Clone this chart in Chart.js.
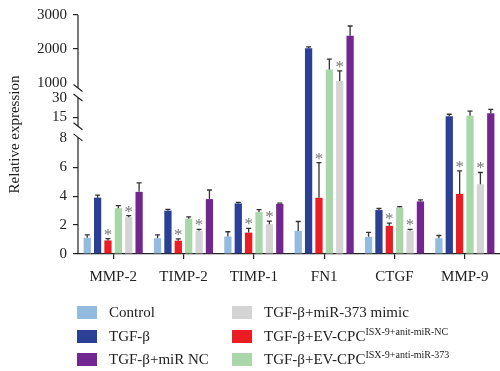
<!DOCTYPE html>
<html>
<head>
<meta charset="utf-8">
<script src="https://cdn.jsdelivr.net/npm/chart.js@4.4.0/dist/chart.umd.min.js"></script>
<style>
html, body { margin: 0; padding: 0; background: #fff; }
#wrap { position: relative; width: 500px; height: 371px; }
#legend { position: absolute; left: 0; top: 0; font-family: 'Liberation Serif', serif; font-size: 15px; color: #222; }
.item { position: absolute; white-space: nowrap; line-height: 16px; }
.sw { position: absolute; width: 20px; height: 13px; }
sup { font-size: 10px; vertical-align: 6px; line-height: 0; }
</style>
</head>
<body>
<div id="wrap"><canvas id="chart" width="500" height="371"></canvas><div id="legend"></div></div>
<script>
// data
var categories = ['MMP-2', 'TIMP-2', 'TIMP-1', 'FN1', 'CTGF', 'MMP-9'];

var control    = [1.12, 1.09, 1.21, 1.6, 1.19, 1.09];
var controlErr = [0.2, 0.23, 0.33, 0.65, 0.31, 0.19];
var tgf        = [3.9, 3.0, 3.5, 2020, 3.04, 15.7];
var tgfErr     = [0.17, 0.09, 0.07, 45, 0.11, 1.6];
var antiNC     = [0.94, 0.92, 1.48, 3.89, 1.95, 4.16];
var antiNCErr  = [0.12, 0.13, 0.29, 2.44, 0.18, 1.59];
var anti373    = [3.17, 2.44, 2.91, 1400, 3.22, 16.2];
var anti373Err = [0.18, 0.13, 0.16, 300, 0.06, 3.5];
var mimic      = [2.55, 1.61, 2.06, 1057, 1.63, 4.83];
var mimicErr   = [0.1, 0.09, 0.22, 300, 0.07, 0.81];
var miRNC      = [4.3, 3.8, 3.47, 2392, 3.64, 18.0];
var miRNCErr   = [0.62, 0.63, 0.05, 285, 0.1, 3.0];

var yTicks = [0, 2, 4, 6, 8, 15, 30, 1000, 2000, 3000];
// value -> share of the axis height (broken axis)
var breakVals  = [0, 8, 15, 30, 1000, 3000];
var breakFracs = [0, 0.4837, 0.572, 0.6545, 0.7154, 1];

var starred = [true, true, true, true, true, true];
var none    = [false, false, false, false, false, false];

var datasets = [
  {label: 'Control', data: control, errors: controlErr, stars: none, backgroundColor: '#93badf'},
  {label: 'TGF-β', data: tgf, errors: tgfErr, stars: none, backgroundColor: '#2b3f95'},
  {label: 'TGF-β+EV-CPC ISX-9+anit-miR-NC', data: antiNC, errors: antiNCErr, stars: starred, backgroundColor: '#ec1c24'},
  {label: 'TGF-β+EV-CPC ISX-9+anti-miR-373', data: anti373, errors: anti373Err, stars: none, backgroundColor: '#a9d7a9'},
  {label: 'TGF-β+miR-373 mimic', data: mimic, errors: mimicErr, stars: starred, backgroundColor: '#d4d4d4'},
  {label: 'TGF-β+miR NC', data: miRNC, errors: miRNCErr, stars: none, backgroundColor: '#722690'}
];

// legend: [dataset index, main text, superscript, x, y]
var legendItems = [
  [0, 'Control', '', 77, 312],
  [1, 'TGF-β', '', 77, 336],
  [5, 'TGF-β+miR NC', '', 77, 359],
  [4, 'TGF-β+miR-373 mimic', '', 232, 312],
  [2, 'TGF-β+EV-CPC', 'ISX-9+anit-miR-NC', 232, 336],
  [3, 'TGF-β+EV-CPC', 'ISX-9+anti-miR-373', 232, 359]
];

class BrokenScale extends Chart.LinearScale {
  buildTicks() {
    return yTicks.map(function(v) { return {value: v}; });
  }
  valueToFrac(v) {
    for (var i = 1; i < breakVals.length; i++) {
      if (v <= breakVals[i] || i == breakVals.length - 1) {
        var t = (v - breakVals[i-1]) / (breakVals[i] - breakVals[i-1]);
        return breakFracs[i-1] + t * (breakFracs[i] - breakFracs[i-1]);
      }
    }
  }
  getPixelForValue(v) {
    return this.bottom - this.valueToFrac(v) * (this.bottom - this.top);
  }
  getValueForPixel(p) {
    var f = (this.bottom - p) / (this.bottom - this.top);
    for (var i = 1; i < breakFracs.length; i++) {
      if (f <= breakFracs[i] || i == breakFracs.length - 1) {
        var t = (f - breakFracs[i-1]) / (breakFracs[i] - breakFracs[i-1]);
        return breakVals[i-1] + t * (breakVals[i] - breakVals[i-1]);
      }
    }
  }
}
BrokenScale.id = 'broken';
BrokenScale.defaults = {};
Chart.register(BrokenScale);

var errorBars = {
  id: 'errorBars',
  afterDatasetsDraw: function(chart) {
    var ctx = chart.ctx, y = chart.scales.y;
    chart.data.datasets.forEach(function(ds, i) {
      chart.getDatasetMeta(i).data.forEach(function(bar, j) {
        var top = y.getPixelForValue(ds.data[j] + ds.errors[j]);
        ctx.save();
        ctx.strokeStyle = '#333';
        ctx.lineWidth = 1.3;
        ctx.beginPath();
        ctx.moveTo(bar.x, bar.y);
        ctx.lineTo(bar.x, top);
        ctx.moveTo(bar.x - 2.5, top);
        ctx.lineTo(bar.x + 2.5, top);
        ctx.stroke();
        if (ds.stars[j]) {
          ctx.fillStyle = '#777';
          ctx.font = '17px "Liberation Serif"';
          ctx.textAlign = 'center';
          ctx.fillText('*', bar.x, top + 1);
        }
        ctx.restore();
      });
    });
  }
};

var axisBreaks = {
  id: 'axisBreaks',
  afterDraw: function(chart) {
    var ctx = chart.ctx, y = chart.scales.y, x0 = chart.chartArea.left;
    var p = function(v) { return y.getPixelForValue(v); };
    var segs = [[p(3000), p(1000) + 5], [p(30), p(15) + 9], [p(8) - 1, p(0)]];
    var slashes = [p(1000) + 5, p(30), p(15) + 9, p(8) - 1];
    ctx.save();
    ctx.strokeStyle = '#222';
    ctx.lineWidth = 1.2;
    ctx.beginPath();
    segs.forEach(function(s) { ctx.moveTo(x0, s[0]); ctx.lineTo(x0, s[1]); });
    slashes.forEach(function(c) { ctx.moveTo(x0 - 4.5, c - 3.5); ctx.lineTo(x0 + 4.5, c + 3.5); });
    ctx.stroke();
    ctx.restore();
  }
};

var hidden = [1000, 30, 8];
var canvas = document.getElementById('chart');
var config = {
  type: 'bar',
  data: {labels: categories, datasets: datasets},
  options: {
    responsive: false,
    animation: false,
    layout: {padding: {top: 8, right: 0, left: 0, bottom: 0}},
    datasets: {bar: {barPercentage: 0.7, categoryPercentage: 0.885, borderWidth: 0}},
    plugins: {legend: {display: false}, tooltip: {enabled: false}},
    scales: {
      x: {
        grid: {offset: false, drawOnChartArea: false, tickLength: 5, color: '#222', lineWidth: 1.2},
        border: {color: '#222', width: 1.2},
        ticks: {color: '#222', padding: 9, font: {family: 'Liberation Serif', size: 15}},
        afterFit: function(s) { s.height = 117; }
      },
      y: {
        type: 'broken',
        min: 0, max: 3000,
        grid: {drawOnChartArea: false, tickLength: 5, lineWidth: 1.2,
               color: function(c) { return hidden.indexOf(c.tick.value) >= 0 ? 'rgba(0,0,0,0)' : '#222'; }},
        border: {display: false},
        ticks: {color: '#222', padding: 6, autoSkip: false, font: {family: 'Liberation Serif', size: 15},
                callback: function(v) { return String(v); }},
        title: {display: true, text: 'Relative expression', color: '#222', padding: {top: 6, bottom: 0},
                font: {family: 'Liberation Serif', size: 15}},
        afterFit: function(s) { s.width = 78; }
      }
    }
  },
  plugins: [errorBars, axisBreaks]
};
var barchart = new Chart(canvas, config);

var legend = document.getElementById('legend');
legendItems.forEach(function(it) {
  var sw = document.createElement('div');
  sw.className = 'sw';
  sw.style.left = it[3] + 'px';
  sw.style.top = (it[4] - 6.5) + 'px';
  sw.style.background = datasets[it[0]].backgroundColor;
  legend.appendChild(sw);
  var tx = document.createElement('div');
  tx.className = 'item';
  tx.style.left = (it[3] + 32) + 'px';
  tx.style.top = (it[4] - 8) + 'px';
  tx.textContent = it[1];
  if (it[2]) {
    var sup = document.createElement('sup');
    sup.textContent = it[2];
    tx.appendChild(sup);
  }
  legend.appendChild(tx);
});
</script>
</body>
</html>
